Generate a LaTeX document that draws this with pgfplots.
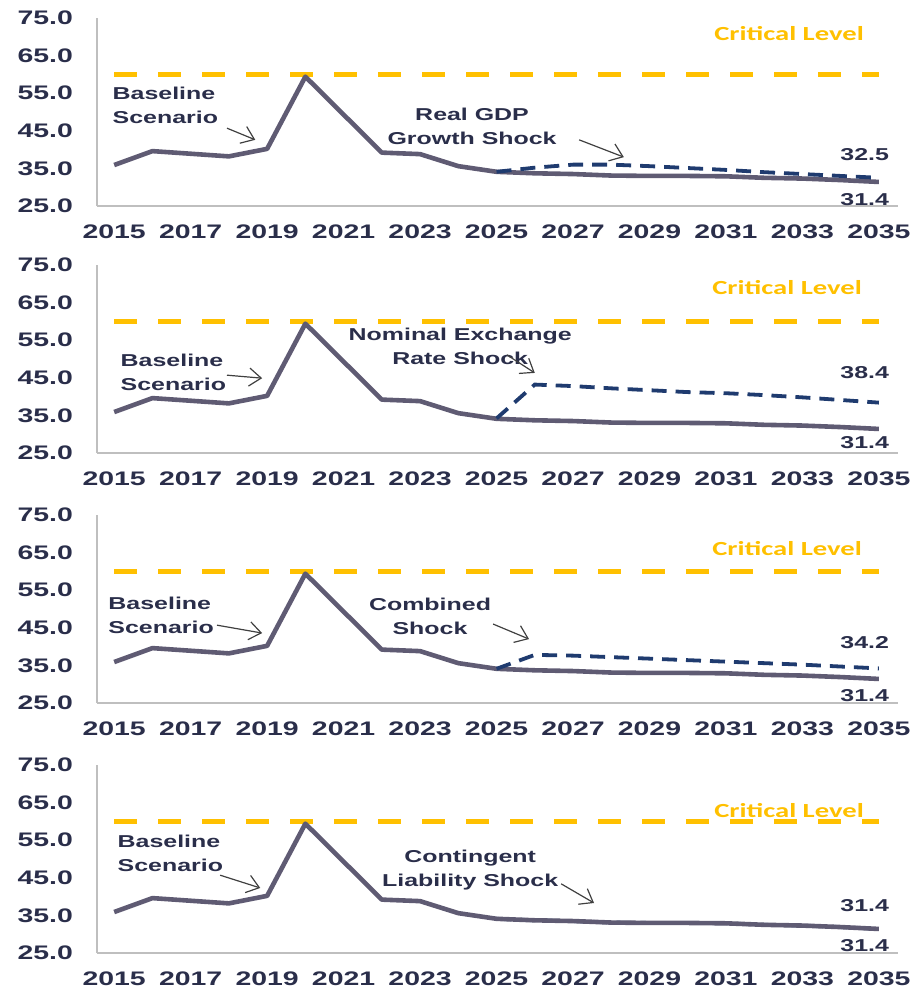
\documentclass[border=0pt]{standalone}
\usepackage{pgfplots}
\pgfplotsset{compat=1.18}
\usepackage{fontspec}
\usetikzlibrary{arrows.meta}
\newfontfamily\wide{Liberation Sans}[FakeStretch=1.45]
\newfontfamily\crit{Carlito}[FakeStretch=1.43]
\definecolor{txt}{HTML}{2A2E4A}
\definecolor{base}{HTML}{5F5B73}
\definecolor{shock}{HTML}{1F3B6F}
\definecolor{gold}{HTML}{FFC000}
\definecolor{axisgray}{HTML}{BFBFBF}
\definecolor{arrowc}{HTML}{404040}

\pgfplotstableread{
year val
2015 35.9
2016 39.6
2017 38.9
2018 38.2
2019 40.2
2020 59.4
2021 49.3
2022 39.2
2023 38.8
2024 35.6
2025 34.1
2026 33.7
2027 33.5
2028 33.1
2029 33.0
2030 33.0
2031 32.9
2032 32.5
2033 32.3
2034 31.9
2035 31.4
}\baseline

\pgfplotstableread{
year val
2025 34.1
2026 35.2
2027 36.0
2028 36.0
2029 35.6
2030 35.1
2031 34.6
2032 34.0
2033 33.5
2034 33.0
2035 32.5
}\gdpshock

\pgfplotstableread{
year val
2025 34.2
2026 43.2
2027 42.8
2028 42.2
2029 41.7
2030 41.2
2031 40.9
2032 40.4
2033 39.8
2034 39.1
2035 38.4
}\fxshock

\pgfplotstableread{
year val
2025 34.1
2026 37.8
2027 37.6
2028 37.2
2029 36.8
2030 36.4
2031 36.0
2032 35.6
2033 35.2
2034 34.7
2035 34.2
}\combshock

\pgfplotstableread{
year val
2025 34.1
2026 33.7
2027 33.5
2028 33.1
2029 33.0
2030 33.0
2031 32.9
2032 32.5
2033 32.3
2034 31.9
2035 31.4
}\contshock

\pgfplotsset{
  panel/.style={
    anchor=north west,
    scale only axis,
    width=400.5pt, height=94pt,
    xmin=2014.55, xmax=2035.5,
    ymin=25, ymax=75,
    xtick={2015,2017,...,2035},
    ytick={25,35,...,75},
    axis x line=bottom, axis y line=left,
    axis line style={-, draw=axisgray, line width=0.9pt},
    major tick length=0pt,
    tick style={draw=none},
    clip=false,
    /pgf/number format/assume math mode=true,
    ticklabel style={font=\wide\bfseries\fontsize{9.8}{11}\selectfont, text=txt},
    xticklabel style={/pgf/number format/1000 sep={}, yshift=-6pt},
    yticklabel style={/pgf/number format/.cd, fixed, fixed zerofill, precision=1, /tikz/.cd, xshift=-8.5pt},
  },
  critline/.style={gold, line width=2.3pt, dash pattern=on 11.3pt off 10.7pt},
  baseline/.style={base, line width=2.3pt, line join=round},
  shockline/.style={shock, line width=1.9pt, dash pattern=on 7.5pt off 4.5pt},
}
\tikzset{
  ann/.style={font=\wide\bfseries\fontsize{8.6}{12}\selectfont, text=txt, inner sep=0pt},
  crit/.style={font=\crit\bfseries\fontsize{10}{12}\selectfont, text=gold, inner sep=0pt},
  arr/.style={draw=arrowc, line width=0.6pt, -{Straight Barb[length=6pt,width=9pt]}},
}

\begin{document}
\begin{tikzpicture}
\useasboundingbox (0,0) rectangle (458pt,-496pt);

% Panel 1
\begin{axis}[panel, at={(48.5pt,-9pt)}]
\addplot[critline] coordinates {(2015,60) (2035,60)};
\addplot[baseline] table[x=year,y=val] {\baseline};
\addplot[shockline] table[x=year,y=val] {\gdpshock};
\node[ann, anchor=west, align=left] at (axis cs:2014.95,51.9) {Baseline\\Scenario};
\draw[arr] (axis cs:2017.95,45.7) -- (axis cs:2018.69,42.6);
\node[ann, align=center] at (axis cs:2024.36,46.1) {Real GDP\\Growth Shock};
\draw[arr] (axis cs:2027.16,42.6) -- (axis cs:2028.33,38.0);
\node[crit] at (axis cs:2032.65,71.0) {Critical Level};
\node[ann] at (axis cs:2034.63,38.6) {32.5};
\node[ann] at (axis cs:2034.63,26.6) {31.4};
\end{axis}

% Panel 2
\begin{axis}[panel, at={(48.5pt,-132.5pt)}]
\addplot[critline] coordinates {(2015,60) (2035,60)};
\addplot[baseline] table[x=year,y=val] {\baseline};
\addplot[shockline] table[x=year,y=val] {\fxshock};
\node[ann, anchor=west, align=left] at (axis cs:2015.16,46.4) {Baseline\\Scenario};
\draw[arr] (axis cs:2017.95,45.7) -- (axis cs:2018.87,44.9);
\node[ann, align=center] at (axis cs:2024.05,53.3) {Nominal Exchange\\Rate Shock};
\draw[arr] (axis cs:2025.27,51.1) -- (axis cs:2026.0,46.3);
\node[crit] at (axis cs:2032.6,69.1) {Critical Level};
\node[ann] at (axis cs:2034.63,46.3) {38.4};
\node[ann] at (axis cs:2034.63,27.7) {31.4};
\end{axis}

% Panel 3
\begin{axis}[panel, at={(48.5pt,-257.5pt)}]
\addplot[critline] coordinates {(2015,60) (2035,60)};
\addplot[baseline] table[x=year,y=val] {\baseline};
\addplot[shockline] table[x=year,y=val] {\combshock};
\node[ann, anchor=west, align=left] at (axis cs:2014.84,48.4) {Baseline\\Scenario};
\draw[arr] (axis cs:2017.69,45.7) -- (axis cs:2018.87,43.6);
\node[ann, align=center] at (axis cs:2023.26,48.1) {Combined\\Shock};
\draw[arr] (axis cs:2024.91,46.0) -- (axis cs:2025.85,42.0);
\node[crit] at (axis cs:2032.6,66.2) {Critical Level};
\node[ann] at (axis cs:2034.63,41.2) {34.2};
\node[ann] at (axis cs:2034.63,27.1) {31.4};
\end{axis}

% Panel 4
\begin{axis}[panel, at={(48.5pt,-382.5pt)}]
\addplot[critline] coordinates {(2015,60) (2035,60)};
\addplot[shockline] table[x=year,y=val] {\contshock};
\addplot[baseline] table[x=year,y=val] {\baseline};
\node[ann, anchor=west, align=left] at (axis cs:2015.08,51.6) {Baseline\\Scenario};
\draw[arr] (axis cs:2017.77,45.7) -- (axis cs:2018.82,42.3);
\node[ann, align=center] at (axis cs:2024.31,47.1) {Contingent\\Liability Shock};
\draw[arr] (axis cs:2026.69,43.4) -- (axis cs:2027.55,38.3);
\node[crit] at (axis cs:2032.65,63.0) {Critical Level};
\node[ann] at (axis cs:2034.63,37.5) {31.4};
\node[ann] at (axis cs:2034.63,27.1) {31.4};
\end{axis}
\end{tikzpicture}
\end{document}
